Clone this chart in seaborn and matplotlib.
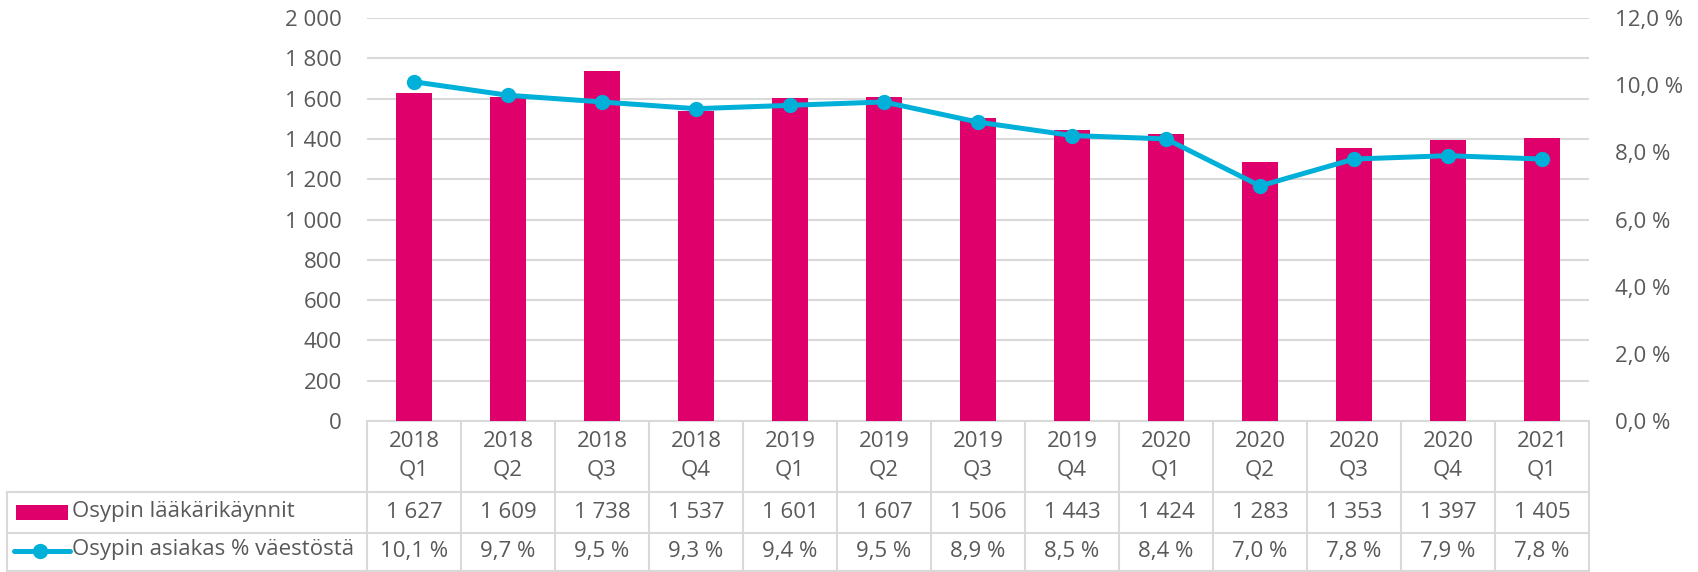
import matplotlib
matplotlib.use("Agg")
import matplotlib.pyplot as plt
import matplotlib.transforms as mtransforms
from matplotlib.patches import Rectangle
from matplotlib.lines import Line2D
import seaborn as sns
import pandas as pd

# ---- data ----
categories = ["2018\nQ1", "2018\nQ2", "2018\nQ3", "2018\nQ4", "2019\nQ1", "2019\nQ2", "2019\nQ3",
              "2019\nQ4", "2020\nQ1", "2020\nQ2", "2020\nQ3", "2020\nQ4", "2021\nQ1"]
visits = [1627, 1609, 1738, 1537, 1601, 1607, 1506, 1443, 1424, 1283, 1353, 1397, 1405]
share_pct = [10.1, 9.7, 9.5, 9.3, 9.4, 9.5, 8.9, 8.5, 8.4, 7.0, 7.8, 7.9, 7.8]
series_names = ["Osypin lääkärikäynnit", "Osypin asiakas % väestöstä"]
left_ticks = [0, 200, 400, 600, 800, 1000, 1200, 1400, 1600, 1800, 2000]
right_ticks = [0, 2, 4, 6, 8, 10, 12]

BAR = "#E0006B"
LINE = "#00B0D8"
GRID = "#D9D9D9"
TXT = "#595959"

sns.set_theme(style="white")
plt.rcParams["font.family"] = ["Open Sans", "DejaVu Sans"]
FS = 16

W, H = 1698, 572
fig = plt.figure(figsize=(W / 100, H / 100), dpi=100)
x0, x1, y0, y1 = 367, 1589, 18, 421
ax = fig.add_axes([x0 / W, 1 - y1 / H, (x1 - x0) / W, (y1 - y0) / H])

df = pd.DataFrame({"cat": categories, "visits": visits, "share": share_pct})
df["cat"] = pd.Categorical(df["cat"], categories=categories, ordered=True)
df["pos"] = range(len(categories))

sns.barplot(data=df, x="cat", y="visits", color=BAR, width=0.39, saturation=1,
            ax=ax, zorder=3, edgecolor="none")
ax.set_ylim(0, 2000)
ax.set_xlim(-0.5, len(categories) - 0.5)
ax.set_yticks(left_ticks)
ax.set_yticklabels([f"{v:,}".replace(",", " ") for v in left_ticks])
ax.yaxis.grid(True, color=GRID, linewidth=1.5, zorder=0)
ax.set_axisbelow(True)
ax.set_xticks([])
ax.set_xlabel("")
ax.set_ylabel("")
for s in ax.spines.values():
    s.set_visible(False)
ax.tick_params(axis="y", length=0, labelsize=FS, labelcolor=TXT, pad=18)

ax2 = ax.twinx()
sns.lineplot(data=df, x="pos", y="share", color=LINE, linewidth=3.6, marker="o",
             markersize=11, markeredgewidth=0, ax=ax2, zorder=4)
ax2.set_ylim(0, 12)
ax2.set_xlim(-0.5, len(categories) - 0.5)
ax2.set_yticks(right_ticks)
ax2.set_yticklabels([f"{v:.1f} %".replace(".", ",") for v in right_ticks])
ax2.tick_params(axis="y", length=0, labelsize=FS, labelcolor=TXT, pad=19)
ax2.set_xlabel("")
ax2.set_ylabel("")
ax2.grid(False)
for s in ax2.spines.values():
    s.set_visible(False)

# ---- data table below the axes ----
tr = mtransforms.blended_transform_factory(ax.transData, ax.transAxes)
ftr = mtransforms.blended_transform_factory(fig.transFigure, ax.transAxes)
ph = y1 - y0
def fy(px):  # pixel row -> axes fraction
    return (y1 - px) / ph

r_head_bot = fy(491.5)
r1_bot = fy(533)
r2_bot = fy(571)
n = len(categories)
kw = dict(color=GRID, linewidth=1.5, clip_on=False, zorder=1)

ax.add_line(Line2D([-0.5, n - 0.5], [0, 0], transform=tr, **kw))
for yy in (r_head_bot, r1_bot, r2_bot):
    ax.add_line(Line2D([7 / W, x1 / W], [yy, yy], transform=ftr, **kw))
for b in range(n + 1):
    ax.add_line(Line2D([b - 0.5, b - 0.5], [0, r2_bot], transform=tr, **kw))
ax.add_line(Line2D([7 / W, 7 / W], [r_head_bot, r2_bot], transform=ftr, **kw))

for i in range(n):
    ax.text(i, fy(456), categories[i], transform=tr, ha="center", va="center",
            fontsize=FS, color=TXT, linespacing=1.45, clip_on=False)
    ax.text(i, fy(512), f"{visits[i]:,}".replace(",", " "), transform=tr,
            ha="center", va="center", fontsize=FS, color=TXT, clip_on=False)
    ax.text(i, fy(551), f"{share_pct[i]:.1f} %".replace(".", ","), transform=tr,
            ha="center", va="center", fontsize=FS, color=TXT, clip_on=False)

# legend keys and row labels
fig.patches.append(Rectangle((16 / W, 1 - 520 / H), 52 / W, 15 / H, transform=fig.transFigure,
                             facecolor=BAR, edgecolor="none"))
fig.lines.append(Line2D([14 / W, 70 / W], [1 - 551 / H, 1 - 551 / H], transform=fig.transFigure,
                        color=LINE, linewidth=3.6))
fig.lines.append(Line2D([40 / W], [1 - 551 / H], transform=fig.transFigure, color=LINE,
                        marker="o", markersize=11, markeredgewidth=0))
fig.text(72 / W, 1 - 511 / H, series_names[0], ha="left", va="center", fontsize=FS, color=TXT)
fig.text(72 / W, 1 - 550 / H, series_names[1], ha="left", va="center", fontsize=FS, color=TXT)

fig.savefig("out.png", dpi=100, facecolor="white")
